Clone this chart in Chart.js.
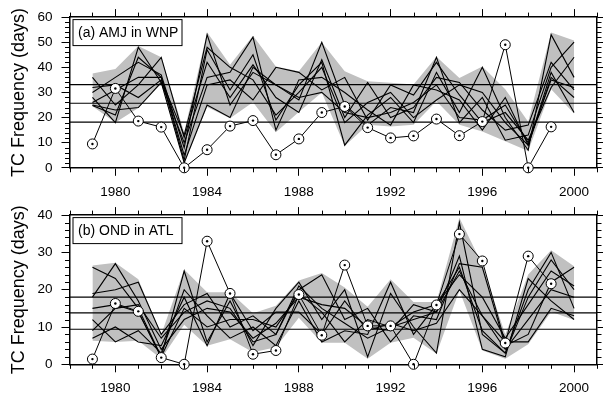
<!DOCTYPE html>
<html>
<head>
<meta charset="utf-8">
<script src="https://cdn.jsdelivr.net/npm/chart.js@4.4.1/dist/chart.umd.min.js"></script>
<style>
  body { margin: 0; background: #fff; width: 603px; height: 398px; overflow: hidden; position: relative; }
  .panel { position: absolute; left: 0; width: 603px; height: 200px; }
</style>
</head>
<body>
<div class="panel" style="top:0px"><canvas id="chartA" width="603" height="200"></canvas></div>
<div class="panel" style="top:198px"><canvas id="chartB" width="603" height="200"></canvas></div>
<script>
// years on the x axis
const years = [1979, 1980, 1981, 1982, 1983, 1984, 1985, 1986, 1987, 1988, 1989,
               1990, 1991, 1992, 1993, 1994, 1995, 1996, 1997, 1998, 1999, 2000];
const xTickYears = [1980, 1984, 1988, 1992, 1996, 2000];

// (a) AMJ in WNP
const obsA = [9.5, 31.6, 18.6, 16.2, 0, 7.2, 16.6, 18.8, 5.2, 11.5, 22.0,
              24.4, 16.0, 11.9, 12.7, 19.4, 12.8, 18.4, 49.0, 0, 16.3, null];
const bandHighA = [37.5, 39.3, 48.5, 44, 14.2, 54, 41, 52.6, 40.3, 38.4, 50,
                   38.4, 34.5, 33.9, 33.2, 44.2, 35.8, 40.3, 31.3, 18.3, 53.9, 50.7];
const bandLowA = [24.5, 18, 23.8, 33.5, 1.5, 24.2, 19.7, 26.1, 14.2, 22.2, 30,
                  8.7, 17.1, 16.4, 17.1, 26.5, 17.1, 14.5, 10.6, 6.7, 31.3, 21.6];
const membersA = [
  [24.8, 21, 44, 36, 3, 47, 31, 45, 19, 33, 42, 9, 21, 28, 18, 38, 22, 40, 20, 7, 53, 36],
  [30, 36, 42, 37, 8, 53, 25, 38, 33, 27, 50, 25, 17, 24, 22, 44, 18, 28, 11, 13, 40, 50],
  [28, 18, 48, 34, 10, 36, 38, 52, 15, 35, 36, 30, 23, 17, 33, 31, 27, 15, 28, 9, 38, 22],
  [36, 25, 33, 44, 12, 42, 28, 41, 28, 22, 43, 20, 34, 20, 24, 36, 34, 23, 15, 17, 42, 31],
  [26, 31, 36, 36, 5, 33, 35, 27, 40, 38, 31, 36, 19, 33, 29, 42, 29, 18, 22, 11, 32, 44],
  [32, 33, 28, 35, 13, 48, 40, 35, 21, 30, 40, 18, 26, 30, 20, 27, 33, 30, 18, 9, 36, 28],
  [25, 23, 24, 34, 2, 25, 20, 40, 33, 28, 30, 22, 20, 22, 26, 33, 20, 19, 25, 10, 35, 32]
];
const refLinesA = [33.1, 25.7, 18.2];

// (b) OND in ATL
const obsB = [1.4, 16.3, 14.2, 1.8, 0, 33.0, 19.0, 2.7, 3.7, 18.7, 7.8,
              26.6, 10.3, 10.3, 0, 15.9, 34.9, 27.7, 5.7, 29.0, 21.6, null];
const bandHighB = [26.5, 27.2, 22.8, 8, 25.4, 19.3, 19.3, 13.7, 15.7, 22.5, 24.5,
                   20.6, 15.4, 22.8, 16.7, 16.7, 39.3, 26.7, 8, 24.1, 30.6, 26.3];
const bandLowB = [6.3, 6, 6.3, 1.5, 10.6, 5, 6.7, 3.2, 4.6, 12.5, 5.8,
                  5.8, 1.5, 5.8, 7.1, 2.8, 19.8, 3.7, 1.5, 5.4, 14.1, 11.9];
const membersB = [
  [26, 23, 15, 2, 25, 6, 17, 5, 15, 22, 12, 20, 2, 19, 10, 3, 38, 8, 3, 20, 30, 15],
  [19, 20, 22, 8, 16, 19, 10, 13, 8, 20, 24, 12, 15, 6, 13, 12, 27, 26, 5, 8, 22, 26],
  [18, 27, 17, 4, 12, 15, 14, 7, 11, 18, 16, 15, 10, 9, 16, 14, 29, 4, 2, 23, 17, 12],
  [12, 6, 9, 3, 20, 13, 7, 10, 5, 17, 6, 9, 8, 22, 8, 16, 24, 18, 7, 16, 25, 21],
  [15, 16, 14, 2, 15, 10, 12, 12, 10, 19, 14, 6, 12, 10, 12, 14, 25, 13, 4, 12, 20, 18],
  [7, 10, 6, 5, 18, 5, 19, 9, 14, 14, 8, 17, 9, 11, 9, 11, 20, 13, 6, 6, 15, 13],
  [9, 15, 16, 7, 14, 17, 15, 6, 8, 21, 15, 11, 7, 10, 14, 16, 26, 9, 3, 18, 28, 20]
];
const refLinesB = [18.0, 13.8, 9.4];

const X_MIN = 1978, X_MAX = 2001;
const GREY = 'rgb(192,192,192)';
const FONT = 'Liberation Sans, Arial, Helvetica, sans-serif';

const pts = arr => years.map((y, i) => ({ x: y, y: arr[i] }));

// minor ticks + panel label box
const panelExtras = {
  id: 'panelExtras',
  afterDraw(chart, args, opts) {
    const { ctx, chartArea: a, scales } = chart;
    ctx.save();
    ctx.strokeStyle = '#000';
    ctx.lineWidth = 1;
    ctx.beginPath();
    for (let v = X_MIN; v <= X_MAX; v++) {
      if (v % 4 === 0) continue;
      const px = Math.round(scales.x.getPixelForValue(v)) + 0.5;
      ctx.moveTo(px, a.bottom); ctx.lineTo(px, a.bottom + 4.5);
      ctx.moveTo(px, a.top); ctx.lineTo(px, a.top - 4.5);
    }
    for (let v = 0; v <= opts.yMax; v += 2) {
      if (v % 10 === 0) continue;
      const py = Math.round(scales.y.getPixelForValue(v)) + 0.5;
      ctx.moveTo(a.left, py); ctx.lineTo(a.left - 4.5, py);
      ctx.moveTo(a.right, py); ctx.lineTo(a.right + 4.5, py);
    }
    ctx.stroke();

    // label box
    const bx = a.left + 3.5, by = a.top + 2.5, bw = 109, bh = 26;
    ctx.fillStyle = '#fff';
    ctx.fillRect(bx, by, bw, bh);
    ctx.strokeRect(bx, by, bw, bh);
    ctx.fillStyle = '#000';
    ctx.font = '14px ' + FONT;
    ctx.textBaseline = 'middle';
    ctx.textAlign = 'left';
    ctx.fillText(opts.label, bx + 5, by + bh / 2 + 1);
    ctx.restore();
  }
};

function makeChart(id, label, obs, bandHigh, bandLow, members, refLines, yMax, bottomPx) {
  const datasets = [];
  // first dataset is drawn on top
  datasets.push({
    data: pts(obs), borderWidth: 0, showLine: false, pointRadius: 1.2,
    pointBackgroundColor: '#000', pointBorderWidth: 0, clip: false
  });
  datasets.push({
    data: pts(obs), borderColor: '#000', borderWidth: 1, pointRadius: 5,
    pointBackgroundColor: '#fff', pointBorderColor: '#000', pointBorderWidth: 1,
    spanGaps: false, clip: false
  });
  members.forEach(m => datasets.push({
    data: pts(m), borderColor: '#000', borderWidth: 1.1, pointRadius: 0
  }));
  refLines.forEach(v => datasets.push({
    data: [{ x: X_MIN, y: v }, { x: X_MAX, y: v }], borderColor: '#000',
    borderWidth: 1.2, pointRadius: 0
  }));
  datasets.push({
    data: pts(bandHigh), borderWidth: 0, pointRadius: 0, fill: '+1',
    backgroundColor: GREY, borderColor: GREY
  });
  datasets.push({
    data: pts(bandLow), borderWidth: 0, pointRadius: 0, fill: false, borderColor: GREY
  });

  const axisBase = {
    border: { display: true, color: '#000', width: 1.5 },
    grid: { drawOnChartArea: false, color: '#000', tickColor: '#000', tickLength: 8, lineWidth: 1 }
  };

  return new Chart(document.getElementById(id), {
    type: 'line',
    data: { datasets },
    options: {
      responsive: false,
      animation: false,
      elements: { line: { tension: 0 } },
      layout: { padding: 0 },
      plugins: {
        legend: { display: false },
        tooltip: { enabled: false },
        panelExtras: { label, yMax }
      },
      scales: {
        x: {
          ...axisBase, type: 'linear', position: 'bottom', min: X_MIN, max: X_MAX,
          afterBuildTicks: s => { s.ticks = xTickYears.map(v => ({ value: v })); },
          afterFit: s => { s.height = 200 - bottomPx; },
          ticks: { color: '#000', font: { family: FONT, size: 13.5 }, padding: 8,
                   maxRotation: 0, autoSkip: false, callback: v => String(v) }
        },
        xTop: {
          ...axisBase, type: 'linear', position: 'top', min: X_MIN, max: X_MAX,
          afterBuildTicks: s => { s.ticks = xTickYears.map(v => ({ value: v })); },
          afterFit: s => { s.height = 12.7; },
          ticks: { display: false }
        },
        y: {
          ...axisBase, type: 'linear', position: 'left', min: 0, max: yMax,
          afterFit: s => { s.width = 69.5; },
          ticks: { stepSize: 10, color: '#000', font: { family: FONT, size: 13.5 }, padding: 9 },
          title: { display: true, text: 'TC Frequency (days)', color: '#000',
                   font: { family: FONT, size: 18 }, padding: { top: 8, bottom: 0 } }
        },
        yRight: {
          ...axisBase, type: 'linear', position: 'right', min: 0, max: yMax,
          afterFit: s => { s.width = 5.7; },
          ticks: { stepSize: 10, display: false }
        }
      }
    },
    plugins: [panelExtras]
  });
}

makeChart('chartA', '(a) AMJ in WNP', obsA, bandHighA, bandLowA, membersA, refLinesA, 60, 167.8);
makeChart('chartB', '(b) OND in ATL', obsB, bandHighB, bandLowB, membersB, refLinesB, 40, 166.3);
</script>
</body>
</html>
